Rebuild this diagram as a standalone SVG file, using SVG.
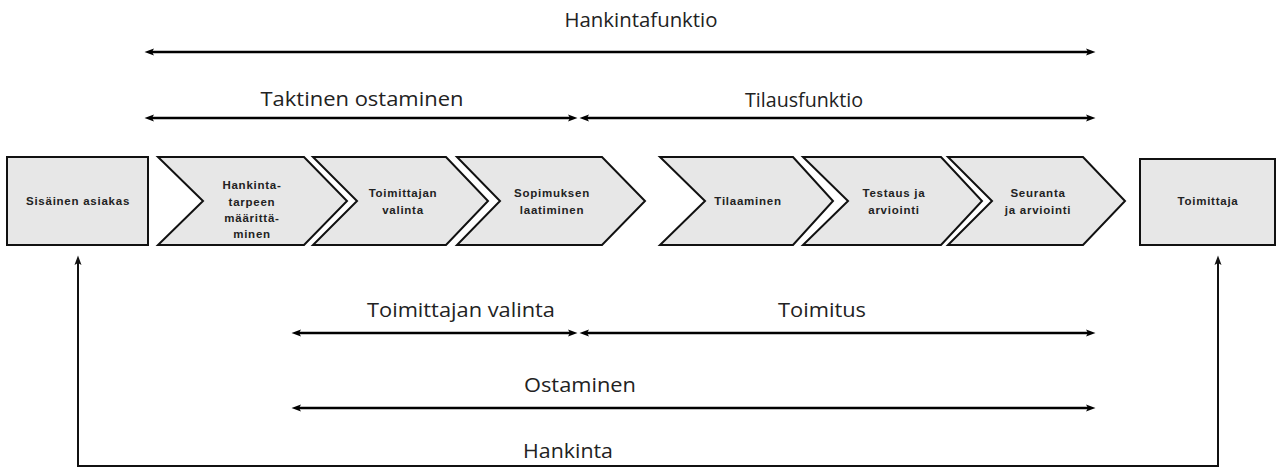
<svg xmlns="http://www.w3.org/2000/svg" width="1277" height="473" viewBox="0 0 1277 473">
<style>
.box{fill:#e7e7e7;stroke:#111;stroke-width:2;stroke-linejoin:miter}
.nt{font-family:"Liberation Sans",Arial,sans-serif;font-weight:bold;font-size:11.5px;letter-spacing:0.75px;fill:#222;text-anchor:middle}
.lbl{font-family:"Open Sans","Noto Sans",sans-serif;font-size:20px;fill:#222;text-anchor:middle}
.arr{stroke:#000;stroke-width:2.5;fill:none;marker-start:url(#ah);marker-end:url(#ah)}
.hk{stroke:#111;stroke-width:2;fill:none;marker-start:url(#ah2);marker-end:url(#ah2)}
</style>
<defs>
<marker id="ah" viewBox="0 0 10 8" refX="3" refY="4" markerWidth="10" markerHeight="8" markerUnits="userSpaceOnUse" orient="auto-start-reverse">
<path d="M0,0.5 L9.5,4 L0,7.5 L2,4 z" fill="#000"/>
</marker>
<marker id="ah2" viewBox="0 0 10 8" refX="3" refY="4" markerWidth="10" markerHeight="8" markerUnits="userSpaceOnUse" orient="auto-start-reverse">
<path d="M0,0.5 L9.5,4 L0,7.5 L2,4 z" fill="#111"/>
</marker>
</defs>

<g id="n-sisainen-asiakas">
<rect class="box" x="7" y="157" width="141" height="88"/>
<text class="nt" x="78" y="205">Sisäinen asiakas</text>
</g>
<g id="n-hankintatarpeen">
<polygon class="box" points="158,157 304,157 347,201 304,245 158,245 203,201"/>
<text class="nt" x="252" y="189">Hankinta-</text>
<text class="nt" x="252" y="206">tarpeen</text>
<text class="nt" x="252" y="222">määrittä-</text>
<text class="nt" x="252" y="238">minen</text>
</g>
<g id="n-toimittajan-valinta">
<polygon class="box" points="313,157 446,157 488,201 446,245 313,245 357,201"/>
<text class="nt" x="403" y="197">Toimittajan</text>
<text class="nt" x="403" y="214">valinta</text>
</g>
<g id="n-sopimuksen-laatiminen">
<polygon class="box" points="457,157 602,157 645,201 602,245 457,245 500,201"/>
<text class="nt" x="552" y="197">Sopimuksen</text>
<text class="nt" x="552" y="214">laatiminen</text>
</g>
<g id="n-tilaaminen">
<polygon class="box" points="660,157 793,157 833,201 793,245 660,245 705,201"/>
<text class="nt" x="748" y="205">Tilaaminen</text>
</g>
<g id="n-testaus">
<polygon class="box" points="803,157 941,157 982,201 941,245 803,245 848,201"/>
<text class="nt" x="894" y="197">Testaus ja</text>
<text class="nt" x="894" y="214">arviointi</text>
</g>
<g id="n-seuranta">
<polygon class="box" points="948,157 1083,157 1125,201 1083,245 948,245 992,201"/>
<text class="nt" x="1038" y="197">Seuranta</text>
<text class="nt" x="1038" y="214">ja arviointi</text>
</g>
<g id="n-toimittaja">
<rect class="box" x="1140" y="159" width="135" height="86"/>
<text class="nt" x="1208" y="205">Toimittaja</text>
</g>

<g id="connectors">
<line class="arr" x1="151" y1="52" x2="1089" y2="52"/>
<line class="arr" x1="151" y1="118" x2="571" y2="118"/>
<line class="arr" x1="586" y1="118" x2="1089" y2="118"/>
<line class="arr" x1="298" y1="333" x2="571" y2="333"/>
<line class="arr" x1="586" y1="333" x2="1089" y2="333"/>
<line class="arr" x1="298" y1="408" x2="1089" y2="408"/>
<path class="hk" d="M78,262 V466 H1218 V262"/>
</g>

<g id="labels">
<text class="lbl" x="641" y="27" textLength="153" lengthAdjust="spacingAndGlyphs">Hankintafunktio</text>
<text class="lbl" x="362" y="106" textLength="203" lengthAdjust="spacingAndGlyphs">Taktinen ostaminen</text>
<text class="lbl" x="804" y="107" textLength="118" lengthAdjust="spacingAndGlyphs">Tilausfunktio</text>
<text class="lbl" x="461" y="317" textLength="188" lengthAdjust="spacingAndGlyphs">Toimittajan valinta</text>
<text class="lbl" x="822" y="317" textLength="88" lengthAdjust="spacingAndGlyphs">Toimitus</text>
<text class="lbl" x="580" y="392" textLength="112" lengthAdjust="spacingAndGlyphs">Ostaminen</text>
<text class="lbl" x="568" y="458" textLength="90" lengthAdjust="spacingAndGlyphs">Hankinta</text>
</g>
</svg>
